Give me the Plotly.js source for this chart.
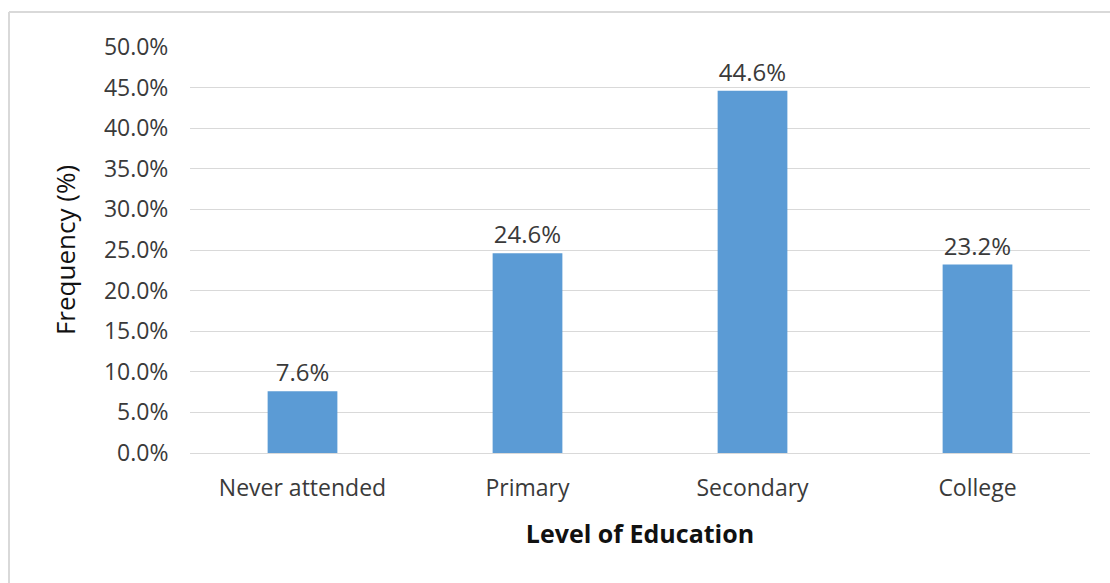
<!DOCTYPE html>
<html>
<head>
<meta charset="utf-8">
<script src="https://cdn.plot.ly/plotly-3.0.1.min.js"></script>
<style>html,body{margin:0;padding:0;background:#fff;}#chart{width:1110px;height:583px;}</style>
</head>
<body>
<div id="chart"></div>
<script>
var categories = ["Never attended", "Primary", "Secondary", "College"];
var frequency = [7.6, 24.6, 44.6, 23.2];
var labels = frequency.map(function(v){ return v.toFixed(1) + "%"; });

var FONT = "Open Sans, Noto Sans, sans-serif";
var TXT = "#3a3a3a";

var trace = {
  type: "bar",
  x: categories,
  y: frequency,
  text: labels,
  textposition: "outside",
  cliponaxis: false,
  textfont: {family: FONT, size: 24, color: TXT},
  marker: {color: "#5B9BD5", line: {width: 0}},
  hoverinfo: "none"
};

var layout = {
  width: 1110, height: 583,
  margin: {l: 190, r: 20, t: 47, b: 130},
  paper_bgcolor: "#fff",
  plot_bgcolor: "#fff",
  showlegend: false,
  bargap: 0.69,
  font: {family: FONT, color: TXT},
  xaxis: {
    type: "category",
    showgrid: false,
    showline: false,
    zeroline: false,
    ticks: "outside", ticklen: 14, tickcolor: "rgba(0,0,0,0)",
    tickfont: {family: FONT, size: 23, color: TXT},
    title: {text: "<b>Level of Education</b>", font: {family: FONT, size: 25, color: "#111"}, standoff: 23},
    automargin: false
  },
  yaxis: {
    range: [0, 50],
    dtick: 5,
    tick0: 0,
    tickformat: ".1f",
    ticksuffix: "%",
    showgrid: true,
    gridcolor: "#d9d9d9",
    gridwidth: 1,
    zeroline: true,
    zerolinecolor: "#d9d9d9",
    zerolinewidth: 1,
    showline: false,
    ticks: "outside", ticklen: 16, tickcolor: "rgba(0,0,0,0)",
    tickfont: {family: FONT, size: 23, color: TXT},
    title: {text: "Frequency (%)", font: {family: FONT, size: 26, color: "#111"}, standoff: 20},
    automargin: false
  },
  shapes: [
    {type: "line", xref: "paper", yref: "paper", x0: -0.2011, x1: 1.03, y0: 1.0862, y1: 1.0862, line: {color: "#d9d9d9", width: 2}},
    {type: "line", xref: "paper", yref: "paper", x0: -0.2011, x1: -0.2011, y0: 1.0862, y1: -0.33, line: {color: "#d9d9d9", width: 2}}
  ]
};

Plotly.newPlot("chart", [trace], layout, {displayModeBar: false, staticPlot: true});
</script>
</body>
</html>
